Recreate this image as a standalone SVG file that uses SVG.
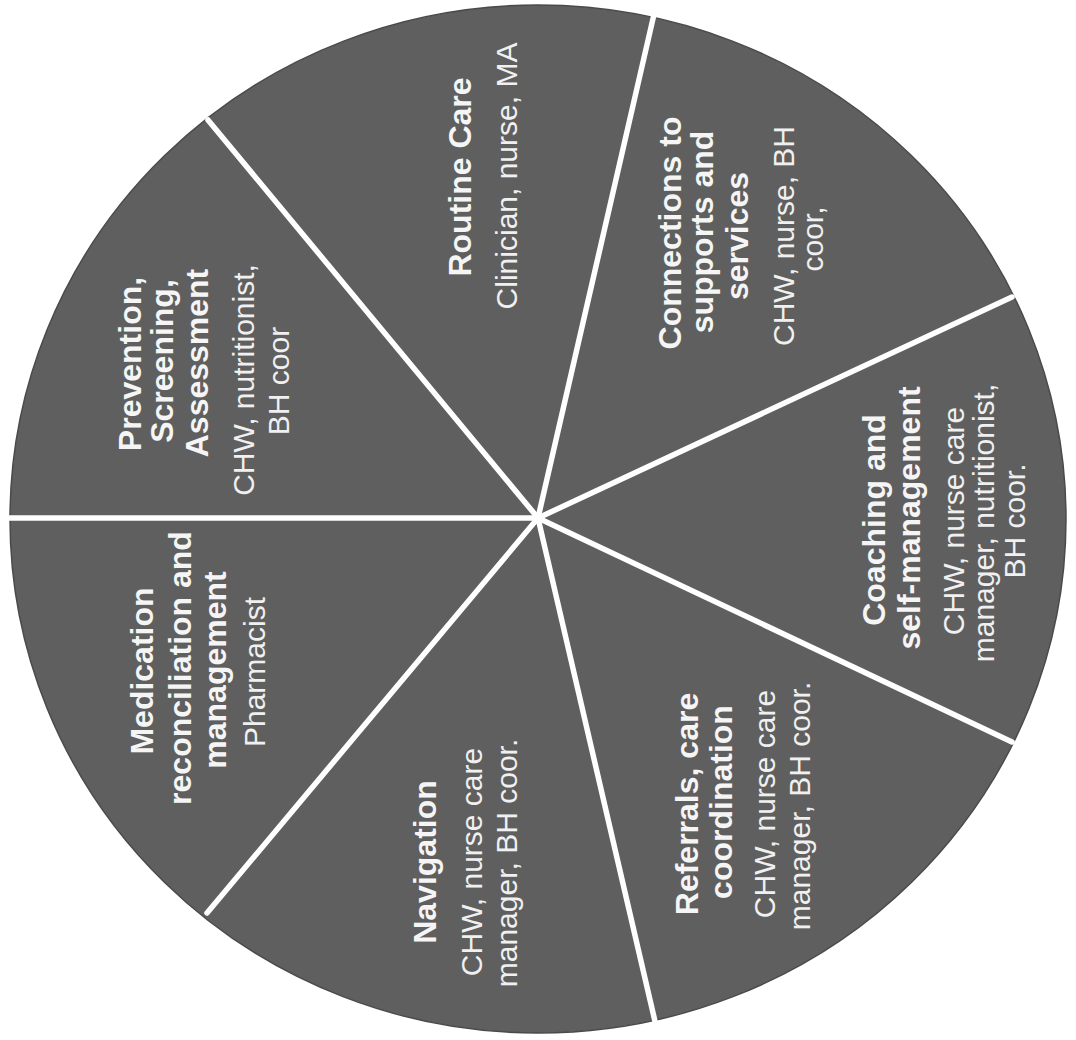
<svg xmlns="http://www.w3.org/2000/svg" width="1076" height="1040" viewBox="0 0 1076 1040">
<style>
.b{font-family:"Liberation Sans",Arial,sans-serif;font-weight:bold;font-size:32px;fill:#f5f5f5;text-anchor:middle}
.r{font-family:"Liberation Sans",Arial,sans-serif;font-size:30px;fill:#f0f0f0;text-anchor:middle}
.div{stroke:#ffffff;stroke-width:5.5;stroke-linecap:round}
</style>
<rect width="1076" height="1040" fill="#ffffff"/>
<g id="pie">
<ellipse cx="538" cy="519" rx="528" ry="514" fill="#5f5f5f" stroke="#4a4a4a" stroke-width="1.5"/>
</g>
<g id="connectors">
<line class="div" x1="538" y1="518" x2="8" y2="518"/>
<line class="div" x1="538" y1="518" x2="208" y2="120"/>
<line class="div" x1="538" y1="518" x2="655" y2="10"/>
<line class="div" x1="538" y1="518" x2="1012" y2="297"/>
<line class="div" x1="538" y1="518" x2="1012" y2="742"/>
<line class="div" x1="538" y1="518" x2="657" y2="1030"/>
<line class="div" x1="538" y1="518" x2="207" y2="913"/>
</g>
<g id="prevention">
<text class="b" transform="translate(141,364) rotate(-90)">Prevention,</text>
<text class="b" transform="translate(173,361) rotate(-90)">Screening,</text>
<text class="b" transform="translate(208,363) rotate(-90)">Assessment</text>
<text class="r" transform="translate(254,380) rotate(-90)">CHW, nutritionist,</text>
<text class="r" transform="translate(289,381) rotate(-90)">BH coor</text>
</g>
<g id="routine-care">
<text class="b" transform="translate(471,177) rotate(-90)">Routine Care</text>
<text class="r" transform="translate(517,176) rotate(-90)">Clinician, nurse, MA</text>
</g>
<g id="connections">
<text class="b" transform="translate(681,233) rotate(-90)">Connections to</text>
<text class="b" transform="translate(713,232) rotate(-90)">supports and</text>
<text class="b" transform="translate(748,236) rotate(-90)">services</text>
<text class="r" transform="translate(794,236) rotate(-90)">CHW, nurse, BH</text>
<text class="r" transform="translate(823,239) rotate(-90)">coor,</text>
</g>
<g id="coaching">
<text class="b" transform="translate(885,520) rotate(-90)">Coaching and</text>
<text class="b" transform="translate(920,518) rotate(-90)">self-management</text>
<text class="r" transform="translate(964,521) rotate(-90)">CHW, nurse care</text>
<text class="r" transform="translate(994,523) rotate(-90)">manager, nutritionist,</text>
<text class="r" transform="translate(1025,521) rotate(-90)">BH coor.</text>
</g>
<g id="referrals">
<text class="b" transform="translate(698,804) rotate(-90)">Referrals, care</text>
<text class="b" transform="translate(732,802) rotate(-90)">coordination</text>
<text class="r" transform="translate(775,804) rotate(-90)">CHW, nurse care</text>
<text class="r" transform="translate(810,806) rotate(-90)">manager, BH coor.</text>
</g>
<g id="navigation">
<text class="b" transform="translate(436,862) rotate(-90)">Navigation</text>
<text class="r" transform="translate(482,862) rotate(-90)">CHW, nurse care</text>
<text class="r" transform="translate(517,863) rotate(-90)">manager, BH coor.</text>
</g>
<g id="medication">
<text class="b" transform="translate(153,671) rotate(-90)">Medication</text>
<text class="b" transform="translate(191,668) rotate(-90)">reconciliation and</text>
<text class="b" transform="translate(226,670) rotate(-90)">management</text>
<text class="r" transform="translate(265,672) rotate(-90)">Pharmacist</text>
</g>
</svg>
